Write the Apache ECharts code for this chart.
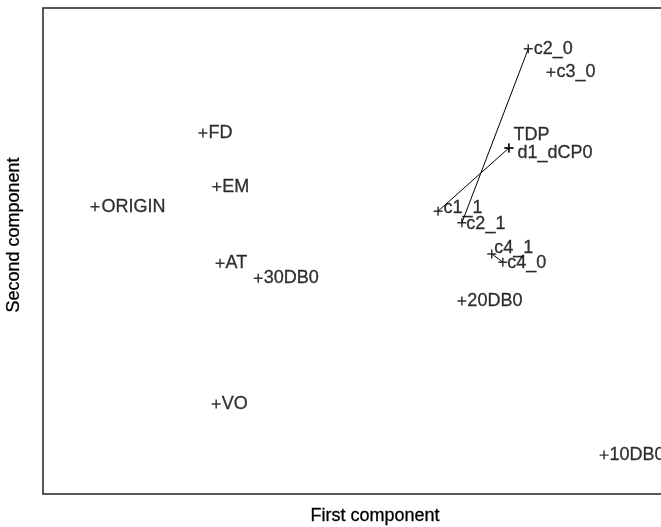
<!DOCTYPE html>
<html>
<head>
<meta charset="utf-8">
<script src="https://cdn.jsdelivr.net/npm/echarts@6/dist/echarts.min.js"></script>
<style>html,body{margin:0;padding:0;background:#fff;}#c{width:661px;height:527px;}</style>
</head>
<body>
<div id="c"></div>
<script>
// Point names and their coordinates on the two components
var names = ['ORIGIN','FD','EM','AT','30DB0','VO','10DB0','20DB0','c2_0','c3_0','TDP','d1_dCP0','c1_1','c2_1','c4_1','c4_0'];
var xComp = [-0.506,-0.311,-0.286,-0.280,-0.211,-0.287,0.414,0.157,0.277,0.318,0.242,0.242,0.114,0.157,0.211,0.231];
var yComp = [0.091,0.243,0.132,-0.025,-0.056,-0.315,-0.420,-0.103,0.416,0.368,0.212,0.212,0.082,0.058,-0.006,-0.023];
// Pairs joined by a line
var links = [['c1_1','d1_dCP0'],['c2_1','c2_0'],['c4_1','c4_0']];
var xTitle = 'First component';
var yTitle = 'Second component';

// label nudges (style only)
var labelNudge = {
  'TDP':[-1,-13], 'd1_dCP0':[3,5], 'c1_1':[0,-3], 'c2_1':[-1,1], 'c4_1':[-3,-6], 'c4_0':[-1,1], 'ORIGIN':[1,0]
};

function idx(n){ return names.indexOf(n); }
var pts = names.map(function(n,i){
  var item = {name:n, value:[xComp[i], yComp[i]]};
  if (labelNudge[n]) item.label = {offset: labelNudge[n]};
  return item;
});

var FONT = 'Liberation Sans, Arial, sans-serif';
var series = [];
links.forEach(function(l){
  var a = idx(l[0]), b = idx(l[1]);
  series.push({
    type:'line', symbol:'none', silent:true, animation:false,
    data:[[xComp[a],yComp[a]],[xComp[b],yComp[b]]],
    lineStyle:{color:'#000', width:1}
  });
});
series.push({
  type:'scatter', animation:false,
  symbol:'path://M3.8,0h1.5v9.1h-1.5zM0,3.8h9.1v1.5h-9.1z', symbolSize:9,
  itemStyle:{color:'#000'},
  data: pts,
  label:{show:true, position:'right', distance:1, formatter:'{b}', color:'#000',
         fontFamily:FONT, fontSize:18, textBorderColor:'#000', textBorderWidth:0.3}
});

var chart = echarts.init(document.getElementById('c'), null, {renderer:'canvas'});
chart.setOption({
  backgroundColor:'#fff',
  animation:false,
  grid:{left:43, top:8, width:664, height:486, show:true, borderColor:'#222', borderWidth:1.5,
        backgroundColor:'transparent', outerBoundsMode:'none', containLabel:false},
  xAxis:{type:'value', min:-0.6, max:0.6, name:xTitle, nameLocation:'middle', nameGap:13,
         nameTextStyle:{fontFamily:FONT, fontSize:18, color:'#000', textBorderColor:'#000', textBorderWidth:0.3},
         axisLine:{show:false}, axisTick:{show:false}, axisLabel:{show:false}, splitLine:{show:false}},
  yAxis:{type:'value', min:-0.5, max:0.5, name:yTitle, nameLocation:'middle', nameGap:20,
         nameTextStyle:{fontFamily:FONT, fontSize:18, color:'#000', textBorderColor:'#000', textBorderWidth:0.3,
                        padding:[0,0,0,32]},
         axisLine:{show:false}, axisTick:{show:false}, axisLabel:{show:false}, splitLine:{show:false}},
  series: series
});
</script>
</body>
</html>
